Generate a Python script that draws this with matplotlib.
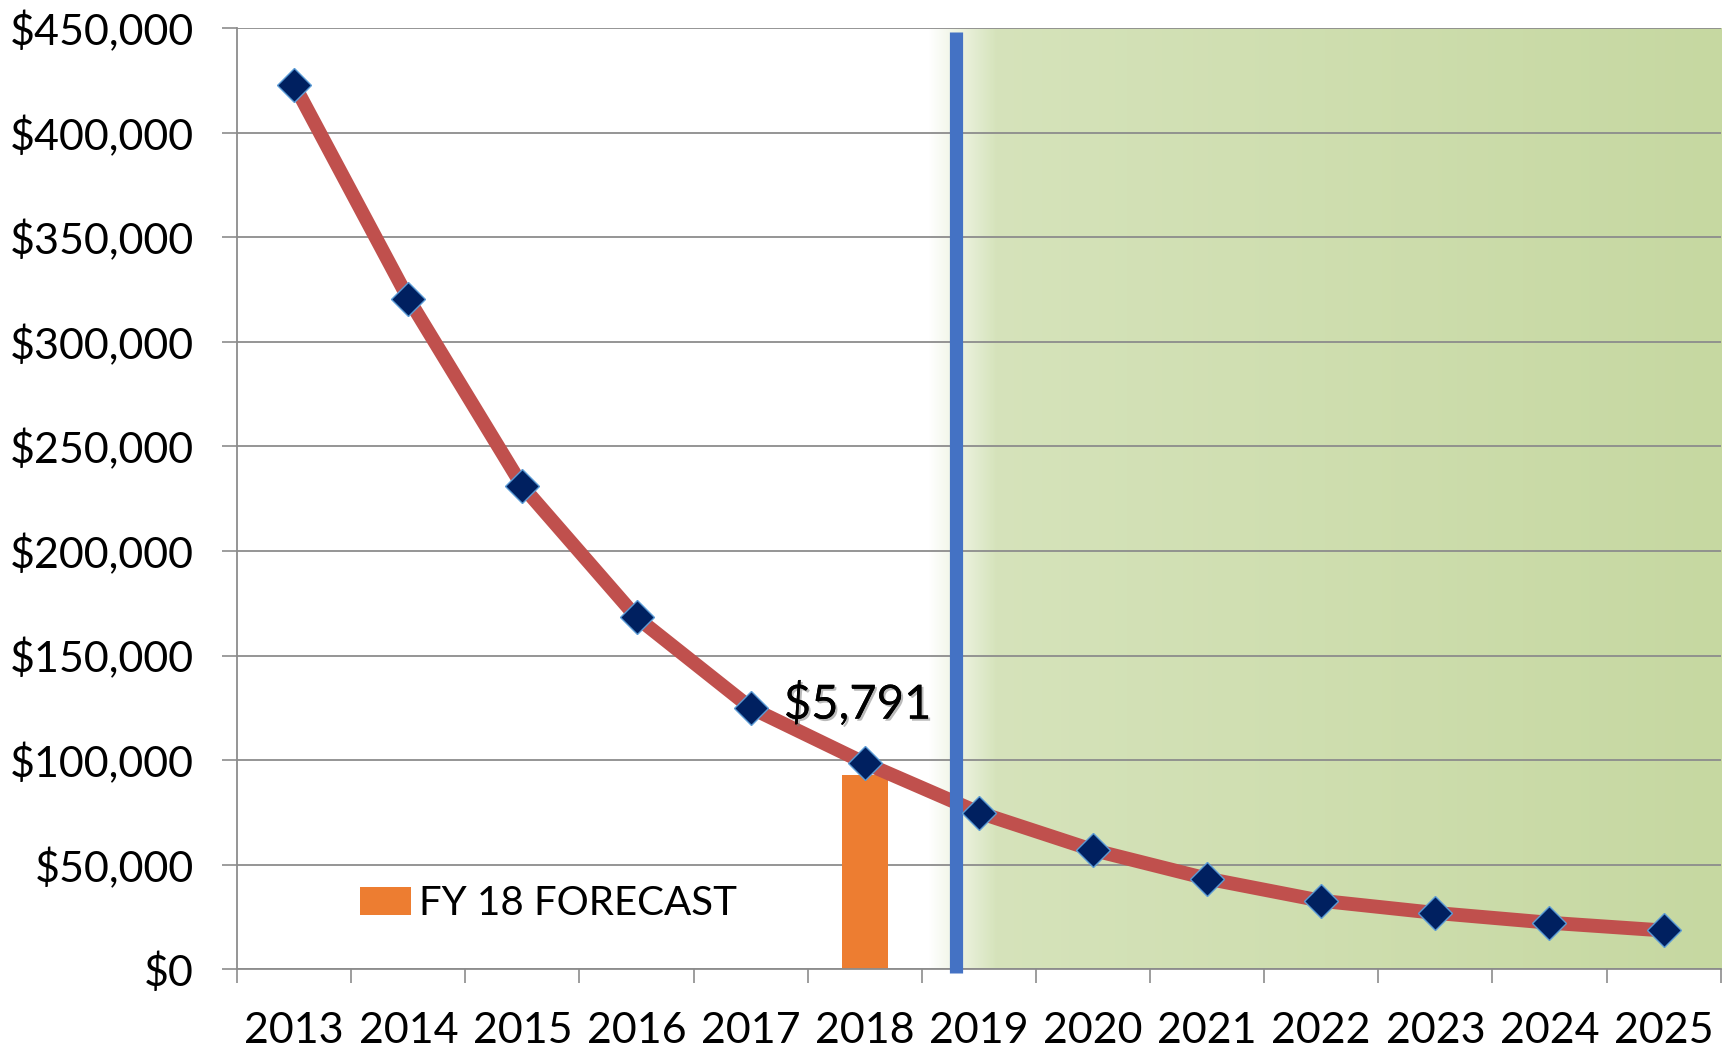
import numpy as np
import matplotlib.pyplot as plt
import matplotlib.patheffects as pe
from matplotlib.colors import to_rgb

plt.rcParams['font.family'] = ['Lato', 'DejaVu Sans']

years = ['2013', '2014', '2015', '2016', '2017', '2018', '2019',
         '2020', '2021', '2022', '2023', '2024', '2025']
values = [423000, 320700, 231000, 168300, 125000, 98600, 74900,
          57000, 43300, 32700, 26900, 22200, 18500]
forecast_year = '2018'
forecast_value = 92800
forecast_label = 'FY 18 FORECAST'
annot_text = '$5,791'
yticks = [0, 50000, 100000, 150000, 200000, 250000, 300000, 350000, 400000, 450000]

x = np.arange(len(years))

fig = plt.figure(figsize=(17.31, 10.5), dpi=100)
ax = fig.add_axes([0.137, 0.077, 0.857, 0.896])
ax.set_xlim(-0.5, len(years) - 0.5)
ax.set_ylim(0, 450000)

# shaded forecast region (white fade into green gradient)
split = 5.8
x0, x1 = split - 0.25, len(years) - 0.5
n = 600
xs = np.linspace(x0, x1, n)
cl, cr = np.array(to_rgb('#d7e4bd')), np.array(to_rgb('#c6d8a1'))
t = (xs - x0) / (x1 - x0)
rgb = cl[None, :] * (1 - t[:, None]) + cr[None, :] * t[:, None]
alpha = np.clip((xs - x0) / 0.6, 0, 1)
img = np.zeros((1, n, 4))
img[0, :, :3] = rgb
img[0, :, 3] = alpha
ax.imshow(img, extent=[x0, x1, 0, 450000], aspect='auto', zorder=0,
          interpolation='bilinear')

ax.set_axisbelow(True)
ax.yaxis.grid(True, color='#8c8c8c', linewidth=1.3)

ax.bar(years.index(forecast_year), forecast_value, width=0.4, color='#ed7d31',
       zorder=1.5, label=forecast_label)

ax.plot(x, values, color='#c0504d', linewidth=10, zorder=2,
        solid_capstyle='round')
ax.plot(x, values, linestyle='none', marker='D', markersize=17,
        markerfacecolor='#002060', markeredgecolor='#5b9bd5',
        markeredgewidth=1.0, zorder=4)

ax.axvline(split, ymin=-0.004, ymax=0.996, color='#4472c4', linewidth=9.5,
           zorder=3, clip_on=False, solid_capstyle='butt')

ax.text(4.29, 126700, annot_text, fontsize=34, va='center', ha='left',
        color='black', zorder=5,
        path_effects=[pe.withSimplePatchShadow(offset=(1.5, -1.5),
                                               shadow_rgbFace='#777777',
                                               alpha=0.5),
                      pe.Normal()])

ax.set_yticks(yticks)
ax.set_yticklabels(['${:,}'.format(v) for v in yticks])
ax.set_xticks(x)
ax.set_xticklabels(years)
ax.set_xticks(np.arange(-0.5, len(years)), minor=True)
ax.tick_params(axis='x', which='major', length=0, pad=31, labelsize=31)
ax.tick_params(axis='x', which='minor', length=10, width=1.2, color='#8c8c8c',
               direction='out')
ax.tick_params(axis='y', length=11, width=1.2, color='#8c8c8c', pad=20,
               labelsize=31)

for s in ['top', 'right']:
    ax.spines[s].set_visible(False)
for s in ['left', 'bottom']:
    ax.spines[s].set_color('#8c8c8c')
    ax.spines[s].set_linewidth(1.3)

ax.legend(loc='center left', bbox_to_anchor=(0.083, 0.07), frameon=False,
          fontsize=29, handlelength=1.25, handleheight=0.7, handletextpad=0.2,
          borderpad=0, borderaxespad=0)

fig.savefig('out.png', dpi=100)
